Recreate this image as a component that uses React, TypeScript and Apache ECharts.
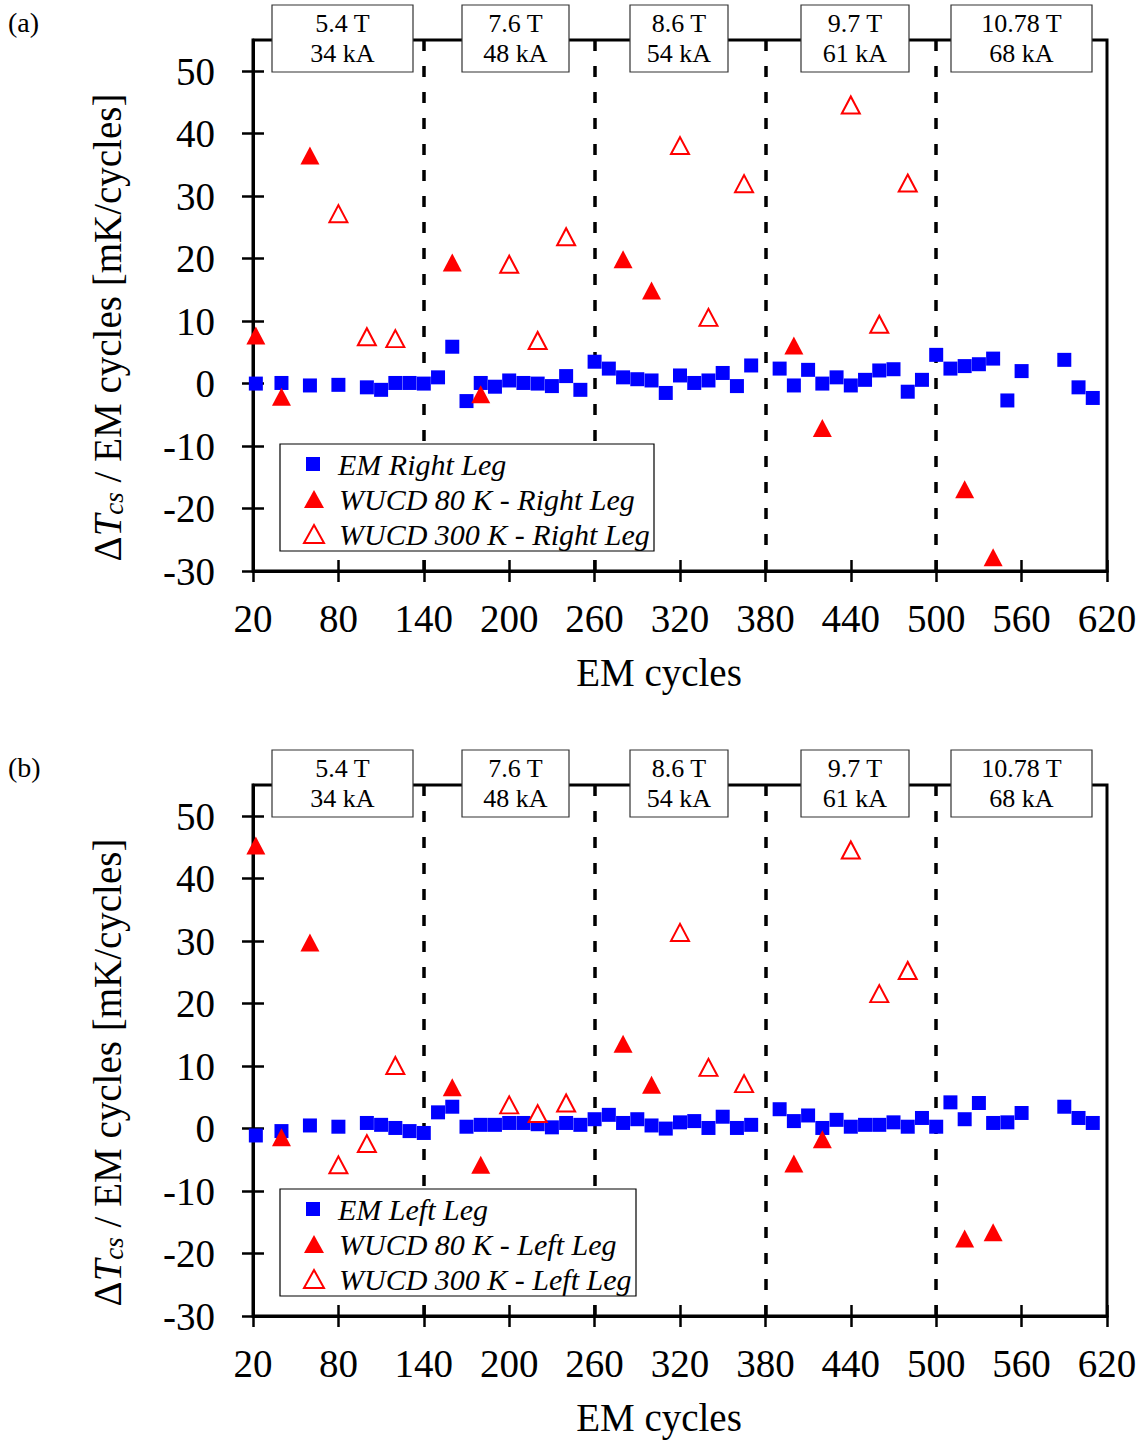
import React, { useEffect, useRef } from "react";
import * as echarts from "echarts";

const SERIF = "'Times New Roman', 'Liberation Serif', Times, serif";

// Axis ticks
const xTicks = [20, 80, 140, 200, 260, 320, 380, 440, 500, 560, 620];
const yTicks = [-30, -20, -10, 0, 10, 20, 30, 40, 50];

// Field steps (cycle boundaries) and their labels
const stepBoundaries = [140, 260, 380, 500];
const stepFields = ["5.4 T", "7.6 T", "8.6 T", "9.7 T", "10.78 T"];
const stepCurrents = ["34 kA", "48 kA", "54 kA", "61 kA", "68 kA"];

// EM cycle positions (same for both legs)
const emCycles = [
  22, 40, 60, 80, 100, 110, 120, 130, 140, 150, 160, 170, 180, 190, 200, 210,
  220, 230, 240, 250, 260, 270, 280, 290, 300, 310, 320, 330, 340, 350, 360,
  370, 390, 400, 410, 420, 430, 440, 450, 460, 470, 480, 490, 500, 510, 520,
  530, 540, 550, 560, 590, 600, 610,
];
const emRight = [
  0, 0.1, -0.3, -0.2, -0.6, -1.0, 0.1, 0.1, 0, 1.0, 5.9, -2.8, 0.1, -0.5, 0.5,
  0.1, 0, -0.4, 1.2, -1.0, 3.5, 2.4, 1.0, 0.7, 0.5, -1.5, 1.3, 0.1, 0.5, 1.7,
  -0.4, 2.9, 2.4, -0.3, 2.2, 0, 1.0, -0.3, 0.6, 2.1, 2.3, -1.3, 0.6, 4.6, 2.4,
  2.8, 3.1, 4.0, -2.7, 2.0, 3.8, -0.6, -2.3,
];
const emLeft = [
  -1.1, -0.4, 0.5, 0.3, 0.9, 0.6, 0.1, -0.4, -0.7, 2.6, 3.5, 0.3, 0.6, 0.6, 0.9,
  0.9, 0.7, 0.2, 0.9, 0.6, 1.5, 2.2, 0.9, 1.5, 0.5, 0, 1.0, 1.2, 0.1, 1.9, 0.1,
  0.6, 3.1, 1.2, 2.1, 0.1, 1.4, 0.3, 0.6, 0.6, 1.0, 0.3, 1.7, 0.3, 4.2, 1.5, 4.1,
  0.9, 1.0, 2.5, 3.5, 1.7, 0.9,
];

// Warm-up / cool-down runs to 80 K
const wucd80Cycles = [22, 40, 60, 160, 180, 280, 300, 400, 420, 520, 540];
const wucd80Right = [7.7, -2.1, 36.5, 19.4, -1.7, 19.9, 14.9, 6.1, -7.1, -16.9, -27.8];
const wucd80Left = [45.3, -1.4, 29.8, 6.6, -5.8, 13.6, 7.0, -5.6, -1.7, -17.6, -16.6];

// Warm-up / cool-down runs to 300 K
const wucd300Cycles = [80, 100, 120, 200, 220, 240, 320, 340, 365, 440, 460, 480];
const wucd300Right = [27.2, 7.5, 7.2, 19.1, 6.9, 23.5, 38.1, 10.6, 32.0, 44.6, 9.5, 32.1];
const wucd300Left = [-5.8, -2.4, 10.1, 3.8, 2.4, 4.1, 31.4, 9.8, 7.2, 44.6, 21.6, 25.3];

const pair = (xs: number[], ys: number[]) => xs.map((x, i) => [x, ys[i]]);

const GRID_LEFT = 253;
const GRID_WIDTH = 854;
const GRID_HEIGHT = 531;
const PANEL_TOPS = [40, 785];

// Label boxes above each panel (pixel x-ranges)
const BOX_X: [number, number][] = [
  [272, 413],
  [462, 569],
  [630, 728],
  [801, 909],
  [951, 1092],
];

const axisName = "{g|Δ}{i|T}{s|cs}{g| / EM cycles [mK/cycles]}";

function buildPanel(p: number, legName: string, em: number[], w80: number[], w300: number[]) {
  const gridIndex = p;
  const tickStyle = { color: "#000", width: 2.5 };
  const xMain = {
    type: "value",
    gridIndex,
    min: 20,
    max: 620,
    position: "bottom",
    axisLine: { show: true, onZero: false, lineStyle: { color: "#000", width: 3 } },
    axisTick: { show: true, inside: true, length: 11, customValues: xTicks, lineStyle: tickStyle },
    axisLabel: { show: true, customValues: xTicks, margin: 28, fontSize: 39, fontFamily: SERIF, color: "#000" },
    splitLine: { show: false },
    name: "EM cycles",
    nameLocation: "middle",
    nameGap: 82,
    nameTextStyle: { fontSize: 39, fontFamily: SERIF, color: "#000", padding: [0, 42, 0, 0] },
  };
  const xOuter = {
    type: "value",
    gridIndex,
    min: 20,
    max: 620,
    position: "bottom",
    axisLine: { show: false, onZero: false },
    axisTick: { show: true, inside: false, length: 11, customValues: xTicks, lineStyle: tickStyle },
    axisLabel: { show: false },
    splitLine: { show: false },
  };
  const yMain = {
    type: "value",
    gridIndex,
    min: -30,
    max: 55,
    position: "left",
    axisLine: { show: true, onZero: false, lineStyle: { color: "#000", width: 3 } },
    axisTick: { show: true, inside: true, length: 11, customValues: yTicks, lineStyle: tickStyle },
    axisLabel: { show: true, customValues: yTicks, margin: 38, fontSize: 39, fontFamily: SERIF, color: "#000" },
    splitLine: { show: false },
    name: axisName,
    nameLocation: "middle",
    nameRotate: 90,
    nameGap: 126,
    nameTextStyle: {
      fontSize: 39,
      fontFamily: SERIF,
      color: "#000",
      padding: [0, 44, 0, 0],
      rich: {
        g: { fontSize: 39, fontFamily: SERIF, color: "#000", lineHeight: 40 },
        i: { fontSize: 39, fontFamily: SERIF, fontStyle: "italic", color: "#000", lineHeight: 40 },
        s: { fontSize: 27, fontFamily: SERIF, fontStyle: "italic", color: "#000", lineHeight: 18, verticalAlign: "bottom" },
      },
    },
  };
  const yOuter = {
    type: "value",
    gridIndex,
    min: -30,
    max: 55,
    position: "left",
    axisLine: { show: false, onZero: false },
    axisTick: { show: true, inside: false, length: 11, customValues: yTicks, lineStyle: tickStyle },
    axisLabel: { show: false },
    splitLine: { show: false },
  };

  const xi = p * 2;
  const yi = p * 2;
  const series = [
    {
      name: `EM ${legName} Leg`,
      type: "scatter",
      xAxisIndex: xi,
      yAxisIndex: yi,
      symbol: "rect",
      symbolSize: 14,
      itemStyle: { color: "#0000ff", opacity: 1 },
      data: pair(emCycles, em),
      markLine: {
        z: 1,
        silent: true,
        symbol: ["none", "none"],
        label: { show: false },
        lineStyle: { color: "#000", type: [11, 15], width: 3.5 },
        emphasis: { disabled: true },
        data: stepBoundaries.map((v) => ({ xAxis: v })),
      },
    },
    {
      name: `WUCD 80 K - ${legName} Leg`,
      type: "scatter",
      xAxisIndex: xi,
      yAxisIndex: yi,
      symbol: "triangle",
      symbolSize: [19, 18],
      itemStyle: { color: "#ff0000", opacity: 1 },
      data: pair(wucd80Cycles, w80),
    },
    {
      name: `WUCD 300 K - ${legName} Leg`,
      type: "scatter",
      xAxisIndex: xi,
      yAxisIndex: yi,
      symbol: "triangle",
      symbolSize: [18, 17],
      itemStyle: { color: "#ffffff", borderColor: "#ff0000", borderWidth: 2, opacity: 1 },
      data: pair(wucd300Cycles, w300),
    },
  ];

  const top = PANEL_TOPS[p];
  const legendTop = top + 404;
  const legends = [
    {
      orient: "vertical",
      left: 306,
      top: legendTop + 5,
      padding: 0,
      itemWidth: 14,
      itemHeight: 14,
      selectedMode: false,
      textStyle: { fontFamily: SERIF, fontStyle: "italic", fontSize: 30, color: "#000", padding: [0, 0, 0, 13] },
      data: [series[0].name],
    },
    {
      orient: "vertical",
      left: 303,
      top: legendTop + 40,
      padding: 0,
      itemWidth: 20,
      itemHeight: 18,
      itemGap: 5,
      selectedMode: false,
      textStyle: { fontFamily: SERIF, fontStyle: "italic", fontSize: 30, color: "#000", padding: [0, 0, 0, 10] },
      data: [series[1].name, series[2].name],
    },
  ];

  const legendBox = {
    type: "rect",
    z: 3,
    shape: { x: 280, y: legendTop, width: p === 0 ? 374 : 356, height: 107 },
    style: { fill: "#fff", stroke: "#000", lineWidth: 1.2 },
  };

  const boxes = BOX_X.map(([x0, x1], i) => ({
    type: "group",
    z: 10,
    children: [
      {
        type: "rect",
        z: 10,
        shape: { x: x0, y: top - 35, width: x1 - x0, height: 67 },
        style: { fill: "#fff", stroke: "#333", lineWidth: 1.2 },
      },
      {
        type: "text",
        z: 11,
        x: (x0 + x1) / 2,
        y: top - 17,
        style: { text: stepFields[i], font: `26px ${SERIF}`, fill: "#000", align: "center", verticalAlign: "middle" },
      },
      {
        type: "text",
        z: 11,
        x: (x0 + x1) / 2,
        y: top + 13,
        style: { text: stepCurrents[i], font: `26px ${SERIF}`, fill: "#000", align: "center", verticalAlign: "middle" },
      },
    ],
  }));

  const panelLabel = {
    type: "text",
    z: 11,
    x: 8,
    y: top - 18,
    style: { text: p === 0 ? "(a)" : "(b)", font: `28px ${SERIF}`, fill: "#000", align: "left", verticalAlign: "middle" },
  };

  return {
    grid: {
      left: GRID_LEFT,
      top,
      width: GRID_WIDTH,
      height: GRID_HEIGHT,
      show: true,
      borderColor: "#000",
      borderWidth: 3,
      backgroundColor: "transparent",
    },
    xAxes: [xMain, xOuter],
    yAxes: [yMain, yOuter],
    series,
    legends,
    graphics: [legendBox, ...boxes, panelLabel],
  };
}

export default function App() {
  const ref = useRef<HTMLDivElement>(null);

  useEffect(() => {
    document.body.style.margin = "0";
    if (!ref.current) return;
    const chart = echarts.init(ref.current, undefined, { renderer: "svg" });

    const a = buildPanel(0, "Right", emRight, wucd80Right, wucd300Right);
    const b = buildPanel(1, "Left", emLeft, wucd80Left, wucd300Left);

    chart.setOption({
      animation: false,
      backgroundColor: "#fff",
      grid: [a.grid, b.grid],
      xAxis: [...a.xAxes, ...b.xAxes],
      yAxis: [...a.yAxes, ...b.yAxes],
      legend: [...a.legends, ...b.legends],
      series: [...a.series, ...b.series],
      graphic: { elements: [...a.graphics, ...b.graphics] },
    });

    return () => chart.dispose();
  }, []);

  return <div ref={ref} style={{ width: 1147, height: 1443 }} />;
}
